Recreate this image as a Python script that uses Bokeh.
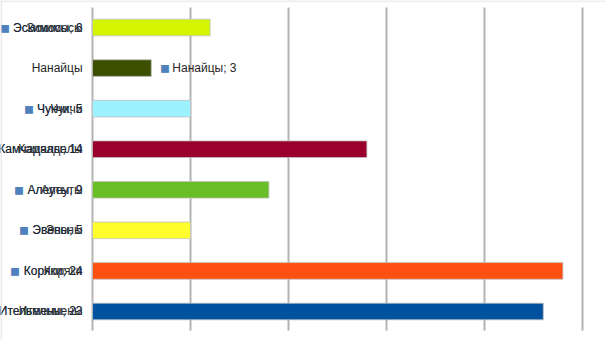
from bokeh.plotting import figure
from bokeh.models import ColumnDataSource, Range1d, Span
from bokeh.core.properties import value
from bokeh.embed import file_html
from bokeh.resources import INLINE

# ---- data ----
categories = ["Эскимосы", "Нанайцы", "Чукчи", "Камчадалы", "Алеуты", "Эвены", "Коряки", "Ительмены"]
counts = [6, 3, 5, 14, 9, 5, 24, 23]
colors = ["#d4f500", "#3d4f00", "#9ef2ff", "#99002b", "#69bd25", "#ffff2e", "#ff5014", "#00529e"]
label_pos = ["base", "outside", "base", "base", "base", "base", "base", "base"]
x_ticks = [0, 5, 10, 15, 20, 25]

# ---- layout ----
W, H = 605, 340
PX_PER_X = 19.6
X0_PX = 92
Y0_PX = 27.0
PX_PER_Y = 40.571

def xd(px):
    return (px - X0_PX) / PX_PER_X

def yd(py):
    return (py - Y0_PX) / PX_PER_Y

FONT = value("Liberation Sans")
FS = "12px"
TXT = "#262626"
KEY = "#4f81bd"
SQ = "\u25FC"

p = figure(width=W, height=H, output_backend="svg", toolbar_location=None,
           x_range=Range1d(xd(0), xd(W)), y_range=Range1d(yd(H), yd(0)),
           min_border=0, min_border_left=0, min_border_right=0,
           min_border_top=0, min_border_bottom=0)
p.axis.visible = False
p.grid.visible = False
p.outline_line_color = None
p.background_fill_color = "white"
p.border_fill_color = "white"

ys = list(range(len(categories)))
src = ColumnDataSource(dict(cat=categories, val=counts, col=colors, y=ys,
                            lab=[f"{c}; {v}" for c, v in zip(categories, counts)],
                            keylab=[f"{SQ} {c}; {v}" for c, v in zip(categories, counts)]))

# gridlines
p.segment(x0=x_ticks, x1=x_ticks, y0=[yd(7)] * len(x_ticks), y1=[yd(330)] * len(x_ticks),
          line_color="#b3b3b3", line_width=2)

# bars
p.hbar(y="y", right="val", left=0, height=0.41, fill_color="col",
       line_color="#c0c0c0", line_width=1, line_alpha=0.8, source=src)

# category labels
p.text(x=0, y="y", text="cat", source=src, text_align="right", text_baseline="middle",
       x_offset=-10, text_font=FONT, text_font_size=FS, text_color=TXT)

# data labels at base
base_idx = [i for i, lp in enumerate(label_pos) if lp == "base"]
bsrc = ColumnDataSource(dict(y=[ys[i] for i in base_idx],
                             lab=[src.data["lab"][i] for i in base_idx],
                             keylab=[src.data["keylab"][i] for i in base_idx]))
p.text(x=0, y="y", text="keylab", source=bsrc, text_align="right", text_baseline="middle",
       x_offset=-10, text_font=FONT, text_font_size=FS, text_color=KEY)
p.text(x=0, y="y", text="lab", source=bsrc, text_align="right", text_baseline="middle",
       x_offset=-10, text_font=FONT, text_font_size=FS, text_color=TXT)

# data labels outside end
out_idx = [i for i, lp in enumerate(label_pos) if lp == "outside"]
osrc = ColumnDataSource(dict(y=[ys[i] for i in out_idx],
                             val=[counts[i] for i in out_idx],
                             lab=[src.data["lab"][i] for i in out_idx]))
p.text(x="val", y="y", text=value(SQ), source=osrc, text_align="left", text_baseline="middle",
       x_offset=9, text_font=FONT, text_font_size=FS, text_color=KEY)
p.text(x="val", y="y", text="lab", source=osrc, text_align="left", text_baseline="middle",
       x_offset=21, text_font=FONT, text_font_size=FS, text_color=TXT)

# chart area border (top and left visible)
p.add_layout(Span(location=yd(0.5), dimension="width", line_color="#d9d9d9", line_width=1))
p.add_layout(Span(location=xd(0.5), dimension="height", line_color="#d9d9d9", line_width=1))

open("out.html", "w").write(file_html(p, INLINE))
